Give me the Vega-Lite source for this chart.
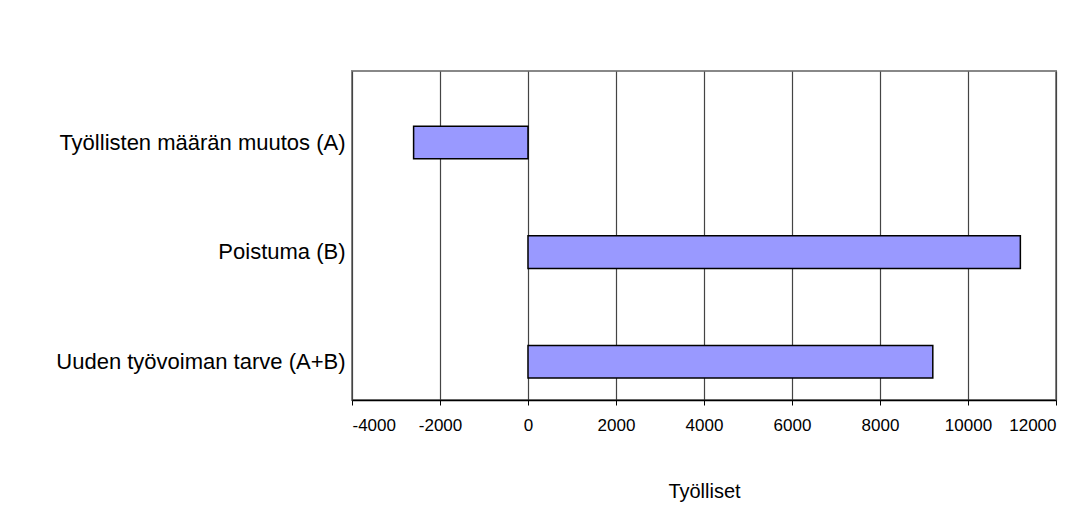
{
  "$schema": "https://vega.github.io/schema/vega-lite/v6.json",
  "width": 704,
  "height": 329,
  "autosize": {"type": "none"},
  "padding": {"left": 352, "top": 71, "right": 36, "bottom": 124},
  "background": "white",
  "config": {
    "font": "Liberation Sans",
    "view": {"stroke": "#888888", "strokeWidth": 2},
    "axis": {"labelColor": "black", "titleColor": "black", "labelFont": "Liberation Sans", "titleFont": "Liberation Sans"}
  },
  "data": {
    "values": [
      {"luokka": "Työllisten määrän muutos (A)", "tyolliset": -2600},
      {"luokka": "Poistuma (B)", "tyolliset": 11190},
      {"luokka": "Uuden työvoiman tarve (A+B)", "tyolliset": 9200}
    ]
  },
  "mark": {"type": "bar", "color": "#9999FF", "stroke": "black", "strokeWidth": 1.5},
  "encoding": {
    "y": {
      "field": "luokka",
      "type": "nominal",
      "sort": null,
      "scale": {"paddingInner": 0.703, "paddingOuter": 0.353, "align": 0.715},
      "axis": {"title": null, "ticks": false, "domain": false, "labelFontSize": 22, "labelPadding": 7, "labelLimit": 400}
    },
    "x": {
      "field": "tyolliset",
      "type": "quantitative",
      "scale": {"domain": [-4000, 12000], "nice": false, "zero": false},
      "axis": {
        "title": "Työlliset",
        "titleFontSize": 20,
        "titleFontWeight": "normal",
        "titlePadding": 48,
        "values": [-4000, -2000, 0, 2000, 4000, 6000, 8000, 10000, 12000],
        "labelExpr": "'' + datum.value",
        "labelFontSize": 17,
        "labelPadding": 12,
        "tickSize": 5,
        "tickColor": "black",
        "domainColor": "black",
        "domainWidth": 1.5,
        "gridColor": "#444444",
        "gridWidth": 1.2,
        "labelOverlap": false
      }
    }
  }
}
